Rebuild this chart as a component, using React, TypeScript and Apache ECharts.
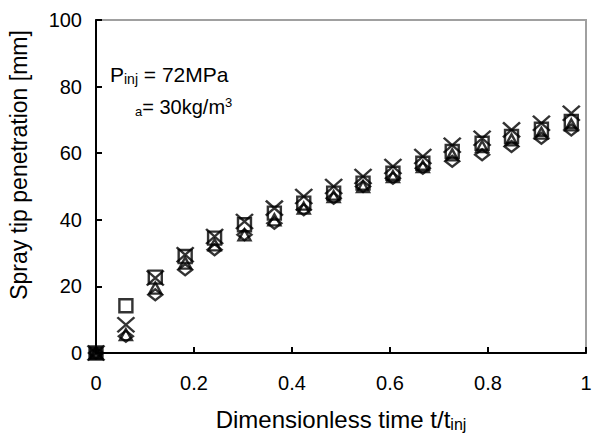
import React, { useEffect, useRef } from "react";
import * as echarts from "echarts";

// Dimensionless time t/t_inj
const TIMES = [0, 0.061, 0.121, 0.182, 0.242, 0.303, 0.364, 0.424, 0.485, 0.545, 0.606, 0.667, 0.727, 0.788, 0.848, 0.909, 0.97];
// Spray tip penetration [mm] for each marker series
const SQUARE = [0, 14.2, 22.8, 29, 34.5, 38.5, 42, 45, 48, 51, 54, 57, 60.5, 63, 65, 67.2, 69.5];
const CROSS = [0, 8.5, 22.5, 29.5, 35, 39.5, 43.5, 47, 50, 53, 56, 59, 62.4, 64.5, 67, 69, 72];
const TRIANGLE = [0, 5.5, 19.5, 27, 32.5, 35.5, 40, 43.5, 47, 50, 53, 56, 59.5, 62, 64, 66, 68.5];
const DIAMOND = [0, 5, 17.5, 25, 31, 35.5, 39, 43, 46.5, 50, 52.5, 55.5, 57.6, 59.5, 62, 64.5, 67];

const X_TICKS = [0, 0.2, 0.4, 0.6, 0.8, 1];
const Y_TICKS = [0, 20, 40, 60, 80, 100];

const FONT = "'Liberation Sans', Arial, sans-serif";

export default function App() {
  const ref = useRef<HTMLDivElement>(null);
  useEffect(() => {
    if (!ref.current) return;
    const chart = echarts.init(ref.current, undefined, { renderer: "svg" });
    const pairs = (ys: number[]) => TIMES.map((t, i) => [t, ys[i]]);
    const hollow = {
      color: "rgba(0,0,0,0)",
      borderColor: "#000",
      borderWidth: 2.4,
    };
    const squareData = pairs(SQUARE).map((p, i) =>
      i === 0 ? { value: p, itemStyle: { color: "#000" } } : p
    );
    chart.setOption({
      animation: false,
      backgroundColor: "#fff",
      textStyle: { fontFamily: FONT },
      grid: {
        left: 96,
        top: 20,
        width: 490,
        height: 333,
        show: true,
        borderColor: "#a0a0a0",
        borderWidth: 2,
        backgroundColor: "rgba(0,0,0,0)",
      },
      xAxis: {
        type: "value",
        min: X_TICKS[0],
        max: X_TICKS[X_TICKS.length - 1],
        interval: 0.2,
        name: "{n|Dimensionless time t/t}{s|inj}",
        nameLocation: "middle",
        nameGap: 53,
        nameTextStyle: {
          rich: {
            n: { fontSize: 24, color: "#000", fontFamily: FONT, lineHeight: 27 },
            s: { fontSize: 16, color: "#000", fontFamily: FONT, lineHeight: 27, padding: [10, 0, 0, 0] },
          },
        },
        axisLine: { show: true, lineStyle: { color: "#000", width: 2 } },
        axisTick: { show: true, inside: true, length: 6, lineStyle: { color: "#000", width: 2 } },
        axisLabel: { fontSize: 20, color: "#000", fontFamily: FONT, margin: 20 },
        splitLine: { show: false },
      },
      yAxis: {
        type: "value",
        min: Y_TICKS[0],
        max: Y_TICKS[Y_TICKS.length - 1],
        interval: 20,
        axisLine: { show: true, lineStyle: { color: "#000", width: 2 } },
        axisTick: { show: true, inside: true, length: 6, lineStyle: { color: "#000", width: 2 } },
        axisLabel: { fontSize: 20, color: "#000", fontFamily: FONT, margin: 14 },
        splitLine: { show: false },
      },
      graphic: [
        {
          type: "text",
          x: 19,
          y: 165,
          rotation: Math.PI / 2,
          style: {
            text: "Spray tip penetration [mm]",
            fontSize: 23,
            fontFamily: FONT,
            fill: "#000",
            align: "center",
            verticalAlign: "middle",
          },
        },
        {
          type: "text",
          x: 110,
          y: 63,
          style: {
            text: "{n|P}{s|inj}{n| = 72MPa}",
            fontFamily: FONT,
            fill: "#000",
            rich: {
              n: { fontSize: 21, fontFamily: FONT, fill: "#000", lineHeight: 23 },
              s: { fontSize: 14, fontFamily: FONT, fill: "#000", lineHeight: 23, padding: [9, 0, 0, 0] },
            },
          },
        },
        {
          type: "text",
          x: 135,
          y: 96,
          style: {
            text: "{s|a}{n|= 30kg/m}{p|3}",
            fontFamily: FONT,
            fill: "#000",
            rich: {
              n: { fontSize: 20, fontFamily: FONT, fill: "#000", lineHeight: 22 },
              s: { fontSize: 13, fontFamily: FONT, fill: "#000", lineHeight: 22, padding: [9, 0, 0, 0] },
              p: { fontSize: 13, fontFamily: FONT, fill: "#000", lineHeight: 22, padding: [0, 0, 10, 0] },
            },
          },
        },
      ],
      series: [
        {
          type: "scatter",
          symbol: "rect",
          symbolSize: 13,
          itemStyle: hollow,
          data: squareData,
        },
        {
          type: "scatter",
          symbol: "triangle",
          symbolSize: [12, 11],
          itemStyle: hollow,
          data: pairs(TRIANGLE),
        },
        {
          type: "scatter",
          symbol: "diamond",
          symbolSize: [14, 11],
          itemStyle: hollow,
          data: pairs(DIAMOND),
        },
        {
          type: "scatter",
          symbol: "path://M0,0L10,10M10,0L0,10",
          symbolSize: [17, 15],
          itemStyle: hollow,
          data: pairs(CROSS),
        },
      ],
    });
    return () => chart.dispose();
  }, []);
  return <div ref={ref} style={{ width: 596, height: 439, position: "absolute", left: 0, top: 0 }} />;
}
